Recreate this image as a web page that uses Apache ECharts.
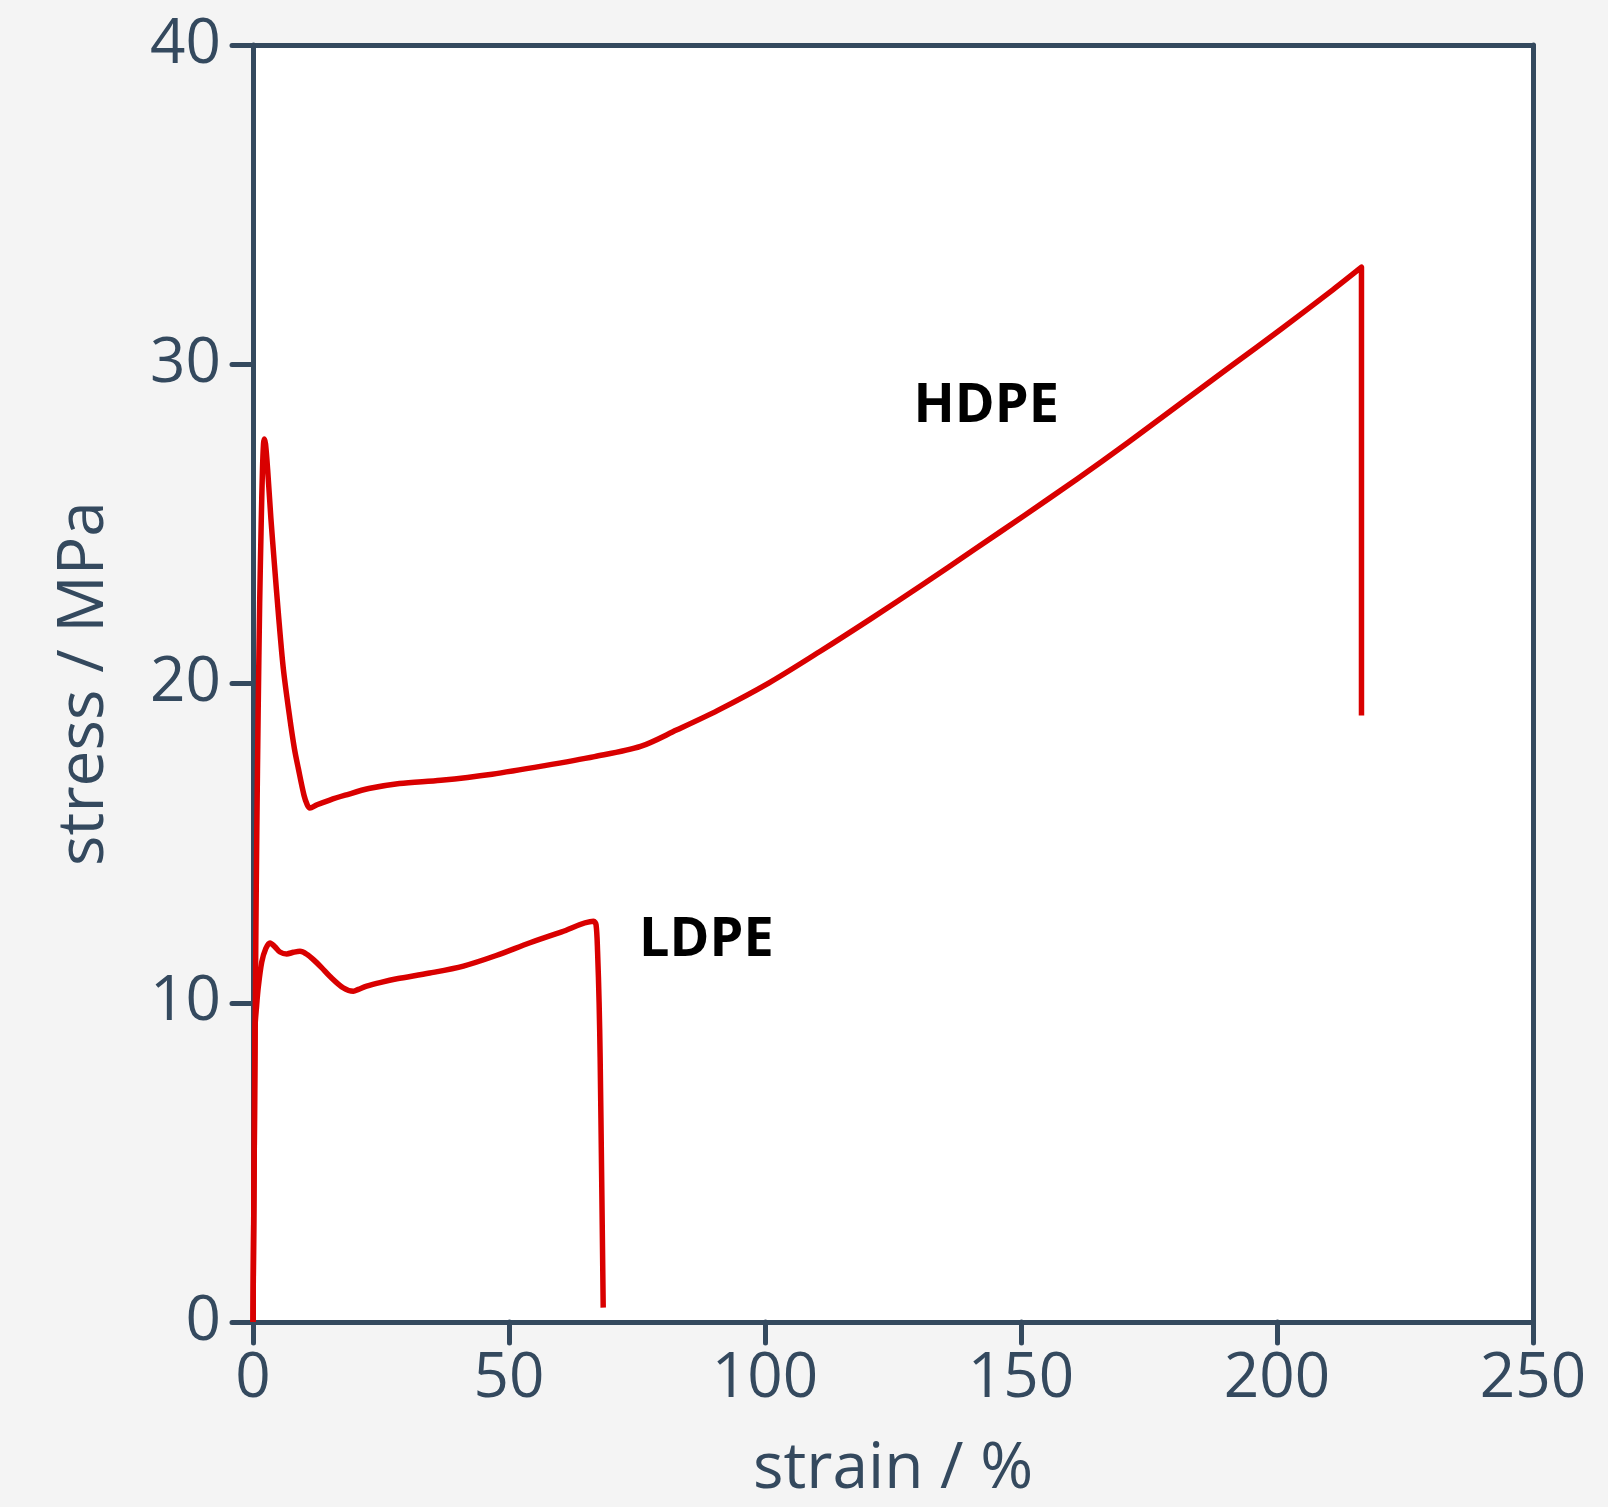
<!DOCTYPE html>
<html>
<head>
<meta charset="utf-8">
<script src="https://cdn.jsdelivr.net/npm/echarts@6/dist/echarts.min.js"></script>
<style>
html,body{margin:0;padding:0;background:#f4f4f4;}
#chart{width:1608px;height:1507px;}
</style>
</head>
<body>
<div id="chart"></div>
<script>
// strain (%) and stress (MPa)
const hdpeStrain = [0, 0.3, 0.55, 0.75, 1.0, 1.3, 1.6, 1.85, 2.05, 2.2, 2.45, 2.86, 3.5, 4.2, 4.95, 5.92, 7.2, 8.1, 8.85, 9.96, 10.6, 11.1, 12.5, 15.0, 18.0, 22.6, 28.6, 36.7, 46.7, 56.7, 66.7, 75.7, 82.7, 90.7, 100.8, 110.8, 120.8, 130.8, 140.8, 150.8, 160.9, 170.9, 180.9, 190.9, 200.9, 210.9, 216.5, 216.5];
const hdpeStress = [0, 6.5, 12, 15.5, 19, 22.5, 25, 26.7, 27.5, 27.66, 27.5, 26.7, 25.16, 23.7, 22.2, 20.47, 18.9, 17.95, 17.34, 16.5, 16.2, 16.1, 16.2, 16.35, 16.5, 16.71, 16.87, 16.97, 17.16, 17.42, 17.71, 18.03, 18.54, 19.15, 20.02, 21.01, 22.04, 23.10, 24.19, 25.28, 26.40, 27.55, 28.74, 29.93, 31.11, 32.33, 33.04, 19.0];

const ldpeStrain = [0, 0.1, 0.25, 0.39, 0.7, 1.04, 1.7, 2.5, 3.32, 4.3, 5.27, 6.58, 7.9, 9.18, 10.5, 11.8, 13.4, 15.0, 17.6, 19.6, 20.6, 22.2, 25.0, 28.1, 34.5, 41.1, 47.5, 54.1, 60.3, 66.5, 67.0, 67.3, 67.6, 67.8, 68.1, 68.4];
const ldpeStress = [0, 2.5, 5.5, 9.2, 9.9, 10.5, 11.27, 11.7, 11.875, 11.75, 11.59, 11.53, 11.58, 11.61, 11.52, 11.35, 11.1, 10.83, 10.47, 10.36, 10.42, 10.52, 10.64, 10.75, 10.93, 11.15, 11.48, 11.88, 12.22, 12.55, 12.45, 11.6, 10.0, 8.3, 4.5, 0.45];

const xTicks = [0, 50, 100, 150, 200, 250];
const yTicks = [0, 10, 20, 30, 40];

const labelNames = ['HDPE', 'LDPE'];
const labelStrain = [143.2, 75.4];
const labelStress = [28.66, 11.94];

const axisColor = '#34495e';
const lineColor = '#d90000';
const font = '"Open Sans", "Noto Sans", sans-serif';

function pairs(xs, ys) { return xs.map((x, i) => [x, ys[i]]); }

const chart = echarts.init(document.getElementById('chart'), null, {renderer: 'canvas'});
chart.setOption({
  backgroundColor: '#f4f4f4',
  animation: false,
  grid: {left: 253, top: 45, right: 75, bottom: 182, show: true, backgroundColor: '#ffffff', borderWidth: 0},
  xAxis: [{
    type: 'value', min: xTicks[0], max: xTicks[xTicks.length - 1], interval: 50,
    name: 'strain / %', nameLocation: 'middle', nameGap: 116,
    nameTextStyle: {fontSize: 64, color: axisColor, fontFamily: font},
    axisLine: {show: true, onZero: false, lineStyle: {color: axisColor, width: 5, cap: 'round'}},
    axisTick: {show: true, length: 21, lineStyle: {color: axisColor, width: 5, cap: 'round'}},
    axisLabel: {fontSize: 62, color: axisColor, fontFamily: font, margin: 26, formatter: v => xTicks.includes(v) ? String(v) : ''},
    splitLine: {show: false}
  }, {
    type: 'value', position: 'top', min: 0, max: 250,
    axisLine: {show: true, onZero: false, lineStyle: {color: axisColor, width: 5, cap: 'round'}},
    axisTick: {show: false}, axisLabel: {show: false}, splitLine: {show: false}
  }],
  yAxis: [{
    type: 'value', min: yTicks[0], max: yTicks[yTicks.length - 1], interval: 10,
    name: 'stress / MPa', nameLocation: 'middle', nameGap: 136,
    nameTextStyle: {fontSize: 64, color: axisColor, fontFamily: font},
    axisLine: {show: true, onZero: false, lineStyle: {color: axisColor, width: 5, cap: 'round'}},
    axisTick: {show: true, length: 21, lineStyle: {color: axisColor, width: 5, cap: 'round'}},
    axisLabel: {fontSize: 62, color: axisColor, fontFamily: font, margin: 32, formatter: v => yTicks.includes(v) ? String(v) : ''},
    splitLine: {show: false}
  }, {
    type: 'value', position: 'right', min: 0, max: 40,
    axisLine: {show: true, onZero: false, lineStyle: {color: axisColor, width: 5, cap: 'round'}},
    axisTick: {show: false}, axisLabel: {show: false}, splitLine: {show: false}
  }],
  series: [{
    name: 'HDPE', type: 'line', data: pairs(hdpeStrain, hdpeStress),
    showSymbol: false, smooth: 0.3, lineStyle: {color: lineColor, width: 5.5, join: 'round'}
  }, {
    name: 'LDPE', type: 'line', data: pairs(ldpeStrain, ldpeStress),
    showSymbol: false, smooth: 0.3, lineStyle: {color: lineColor, width: 5.5, join: 'round'}
  }, {
    type: 'scatter', symbolSize: 0, silent: true,
    itemStyle: {opacity: 1},
    label: {show: true, color: '#000000', fontSize: 54, fontWeight: 'bold', fontFamily: font, textBorderWidth: 0, opacity: 1},
    data: labelNames.map((n, i) => ({value: [labelStrain[i], labelStress[i]], name: n,
      label: {show: true, position: 'inside', align: i === 0 ? 'center' : 'left', verticalAlign: 'middle',
        formatter: n, fontSize: 54, fontWeight: 'bold', color: '#000000', textBorderWidth: 0, opacity: 1, fontFamily: font}}))
  }]
});
</script>
</body>
</html>
